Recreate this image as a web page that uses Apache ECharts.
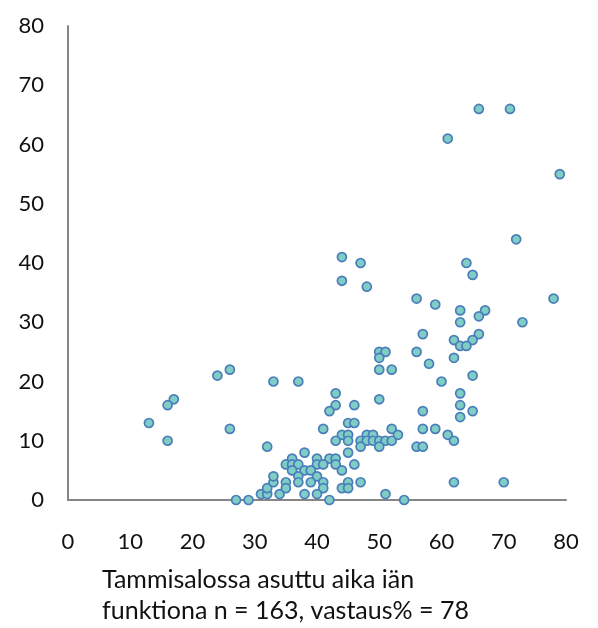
<!DOCTYPE html>
<html>
<head>
<meta charset="utf-8">
<style>
  html, body { margin: 0; padding: 0; background: #fff; }
  #chart { width: 598px; height: 628px; }
</style>
<script src="https://cdn.jsdelivr.net/npm/echarts@6/dist/echarts.min.js"></script>
</head>
<body>
<div id="chart"></div>
<script>
// age (x) vs. years lived in Tammisalo (y)
const ages = [
  61, 66, 71, 79, 72, 44, 47, 44, 48, 64, 65, 78, 56, 59, 63, 67, 66, 63, 73, 57,
  66, 62, 65, 63, 64, 56, 62, 58, 60, 65, 63, 63, 57, 65, 63, 57, 59, 61, 62, 56,
  57, 62, 70, 54, 50, 51, 50, 50, 52, 37, 43, 50, 24, 26, 33, 17, 16, 13, 16, 26,
  32, 27, 29, 31, 32, 32, 33, 33, 34, 43, 42, 46, 41, 45, 46, 52, 44, 45, 48, 49,
  53, 43, 45, 47, 48, 49, 50, 51, 52, 47, 50, 45, 38, 36, 40, 42, 43, 43, 44, 46,
  35, 36, 37, 40, 41, 36, 38, 39, 37, 37, 40, 35, 39, 41, 45, 47, 35, 41, 44, 45,
  38, 40, 51, 42
]
const years = [
  61, 66, 66, 55, 44, 41, 40, 37, 36, 40, 38, 34, 34, 33, 32, 32, 31, 30, 30, 28,
  28, 27, 27, 26, 26, 25, 24, 23, 20, 21, 18, 16, 15, 15, 14, 12, 12, 11, 10, 9,
  9, 3, 3, 0, 25, 25, 24, 22, 22, 20, 18, 17, 21, 22, 20, 17, 16, 13, 10, 12,
  9, 0, 0, 1, 1, 2, 3, 4, 1, 16, 15, 16, 12, 13, 13, 12, 11, 11, 11, 11,
  11, 10, 10, 10, 10, 10, 10, 10, 10, 9, 9, 8, 8, 7, 7, 7, 7, 6, 5, 6,
  6, 6, 6, 6, 6, 5, 5, 5, 4, 3, 4, 3, 3, 3, 3, 3, 2, 2, 2, 2,
  1, 1, 1, 0
]
const axisTicks = [0, 10, 20, 30, 40, 50, 60, 70, 80]
const captionLines = [
  'Tammisalossa asuttu aika iän',
  'funktiona n = 163, vastaus% = 78'
]

const points = ages.map((a, i) => [a, years[i]])
const FONT = 'Lato, "Open Sans", sans-serif'

const axisBase = {
  type: 'value',
  min: axisTicks[0],
  max: axisTicks[axisTicks.length - 1],
  interval: axisTicks[1] - axisTicks[0],
  axisLine: { show: true, lineStyle: { color: '#868686', width: 2 } },
  axisTick: { show: false },
  splitLine: { show: false }
}

const chart = echarts.init(document.getElementById('chart'), null, { renderer: 'canvas' })
chart.setOption({
  animation: false,
  backgroundColor: '#fff',
  title: {
    text: captionLines.join('\n'),
    left: 97,
    top: 559,
    textStyle: { fontFamily: FONT, fontSize: 25, fontWeight: 'normal', color: '#111', lineHeight: 31 }
  },
  grid: { left: 68, right: 32, top: 26, bottom: 128 },
  xAxis: {
    ...axisBase,
    axisLabel: { color: '#111', fontSize: 22, fontFamily: FONT, margin: 31 }
  },
  yAxis: {
    ...axisBase,
    axisLabel: { color: '#111', fontSize: 22, fontFamily: FONT, margin: 24 }
  },
  series: [{
    type: 'scatter',
    data: points,
    clip: false,
    symbol: 'circle',
    symbolSize: 9,
    itemStyle: { color: '#7fcdc4', borderColor: '#4a7ebb', borderWidth: 1.7, opacity: 1 }
  }]
})
</script>
</body>
</html>
